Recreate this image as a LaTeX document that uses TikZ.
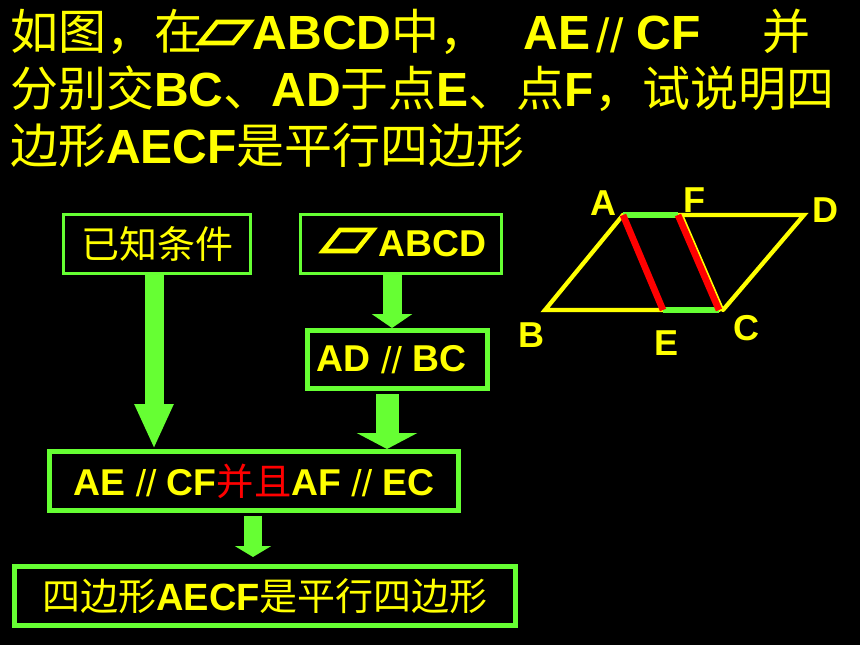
\documentclass[tikz,border=0pt]{standalone}
\usepackage{fontspec}
\setmainfont{Liberation Sans}
\newfontfamily\cjk{Noto Sans CJK SC}
\usetikzlibrary{arrows.meta}
\definecolor{BoardYellow}{HTML}{FFFF00}
\definecolor{BoardGreen}{HTML}{66FF33}
\definecolor{BoardRed}{HTML}{FF0000}
\newcommand{\zh}[1]{{\cjk\mdseries #1}}
\newcommand{\parl}{\raisebox{-0.05em}{\mdseries //}}
\tikzset{
    headline/.style={anchor=base west, inner sep=0pt, text=BoardYellow, font=\fontsize{36}{42}\selectfont\bfseries},
    flowbox/.style={draw=BoardGreen, inner sep=0pt, text=BoardYellow, font=\fontsize{28.5}{34}\selectfont\bfseries},
    latinbox/.style={flowbox, font=\fontsize{28}{34}\selectfont\bfseries},
    flowarrow/.style={draw=BoardGreen, fill=BoardGreen},
    vertexlabel/.style={inner sep=0pt, text=BoardYellow, font=\fontsize{27}{32}\selectfont\bfseries},
    yellowline/.style={draw=BoardYellow, line width=3.2pt, line cap=round},
}
\begin{document}
\begin{tikzpicture}[x=0.75pt, y=-0.75pt]
                \fill[black] (0,0) rectangle (860,645);
                \useasboundingbox (0,0) rectangle (860,645);
                \node[headline] (line1) at (10,50) {\zh{如图，在}\hspace*{38pt}ABCD\zh{中，}\hspace*{27pt}AE\hspace{0.14em}\parl\ CF\hspace*{46.5pt}\zh{并}};
                \node[headline] (line2) at (10,107) {\zh{分别交}BC\zh{、}AD\zh{于点}E\zh{、点}F\zh{，试说明四}};
                \node[headline] (line3) at (10,164) {\zh{边形}AECF\zh{是平行四边形}};
                \foreach \x/\y in {197/43, 320/251} {
                    \draw[BoardYellow, line width=3.4pt]
                        (\x+3,\y) -- (\x+20,\y-21) -- (\x+53,\y-21) -- (\x+36,\y) -- cycle;
                }
                \node[flowbox, line width=2.6pt, minimum width=139.9pt, minimum height=43.9pt] (known) at (157,244) {\zh{已知条件}};
                \node[latinbox, line width=2.6pt, minimum width=150.4pt, minimum height=43.9pt] (abcd) at (401,244) {\hspace*{47pt}ABCD};
                \node[latinbox, line width=3.75pt, minimum width=135pt, minimum height=43.5pt] (adbc) at (397.5,359.5) {AD \parl\ BC\hspace*{9pt}};
                \node[latinbox, line width=3.75pt, minimum width=306.75pt, minimum height=44.25pt] (both) at (254,481) {AE \parl\ CF{\cjk\mdseries\color{BoardRed}并且}AF \parl\ EC};
                \node[flowbox, line width=3.75pt, minimum width=375.75pt, minimum height=44.25pt] (goal) at (265,596) {\zh{四边形}AECF\zh{是平行四边形}};
                \coordinate (arrowa) at (154,0);
                \coordinate (arrowb) at (392,0);
                \coordinate (arrowc) at (387,0);
                \coordinate (arrowd) at (253,0);
                \draw[flowarrow, line width=14.25pt, -{Triangle[length=33.75pt, width=27pt]}] (arrowa |- known.south) -- (arrowa |- both.north);
                \draw[flowarrow, line width=14.25pt, -{Triangle[length=10.5pt, width=30pt]}] (arrowb |- abcd.south) -- (arrowb |- adbc.north);
                \draw[flowarrow, line width=17.25pt, shorten <=2.25pt, -{Triangle[length=12pt, width=45pt]}] (arrowc |- adbc.south) -- (arrowc |- both.north);
                \draw[flowarrow, line width=13.5pt, shorten <=2.25pt, shorten >=5.25pt, -{Triangle[length=8.25pt, width=27pt]}] (arrowd |- both.south) -- (arrowd |- goal.north);
                \coordinate (A) at (623,215);
                \coordinate (B) at (545,310);
                \coordinate (C) at (719,310);
                \coordinate (D) at (804,215);
                \coordinate (E) at (663,310);
                \coordinate (F) at (678,215);
                \coordinate (Cc) at (723,310);
                \coordinate (Ff) at (682,215);
                \draw[yellowline] (A) -- (D) -- (Cc);
                \draw[yellowline] (A) -- (B) -- (C);
                \draw[BoardYellow, line width=2pt] (Ff) -- (Cc);
                \draw[BoardGreen, line width=5pt] (A) -- (F);
                \draw[BoardGreen, line width=5pt] (E) -- (C);
                \draw[BoardRed, line width=5pt] (A) -- (E);
                \draw[BoardRed, line width=5pt] (F) -- (C);
                \node[vertexlabel] (labelA) at (603,203) {A};
                \node[vertexlabel] (labelB) at (531,335) {B};
                \node[vertexlabel] (labelC) at (746,328) {C};
                \node[vertexlabel] (labelD) at (825,210) {D};
                \node[vertexlabel] (labelE) at (666,343) {E};
                \node[vertexlabel] (labelF) at (694,200) {F};
            \end{tikzpicture}
\end{document}
